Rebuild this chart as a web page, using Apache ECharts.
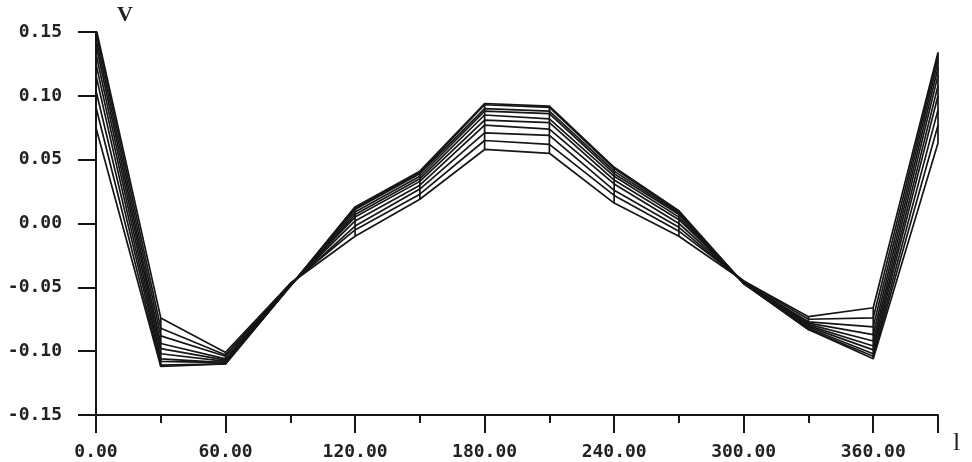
<!DOCTYPE html>
<html>
<head>
<meta charset="utf-8">
<title>V - l</title>
<script src="https://cdn.jsdelivr.net/npm/echarts@6/dist/echarts.min.js"></script>
<style>
html, body { margin: 0; padding: 0; background: #fff; }
#main { width: 972px; height: 462px; }
</style>
</head>
<body>
<div id="main"></div>
<script>
// positions along l
var xs = [0, 30, 60, 90, 120, 150, 180, 210, 240, 270, 300, 330, 360, 390];

// the family of curves
var v1  = [0.153, -0.074, -0.101, -0.047, -0.010, 0.019, 0.058, 0.055, 0.016, -0.010, -0.045, -0.073, -0.066, 0.134];
var v2  = [0.150, -0.082, -0.103, -0.047, -0.005, 0.023, 0.065, 0.062, 0.022, -0.006, -0.045, -0.075, -0.074, 0.131];
var v3  = [0.145, -0.088, -0.104, -0.048, -0.002, 0.027, 0.071, 0.069, 0.026, -0.003, -0.046, -0.077, -0.081, 0.127];
var v4  = [0.140, -0.094, -0.106, -0.048, 0.002, 0.030, 0.077, 0.074, 0.031, 0.000, -0.046, -0.078, -0.087, 0.122];
var v5  = [0.133, -0.098, -0.107, -0.048, 0.005, 0.033, 0.081, 0.079, 0.034, 0.003, -0.046, -0.079, -0.092, 0.116];
var v6  = [0.125, -0.102, -0.108, -0.049, 0.007, 0.035, 0.085, 0.082, 0.037, 0.005, -0.047, -0.080, -0.096, 0.108];
var v7  = [0.116, -0.106, -0.109, -0.049, 0.009, 0.037, 0.088, 0.086, 0.039, 0.007, -0.047, -0.081, -0.099, 0.100];
var v8  = [0.104, -0.108, -0.109, -0.049, 0.011, 0.039, 0.090, 0.088, 0.041, 0.008, -0.047, -0.082, -0.102, 0.089];
var v9  = [0.091, -0.111, -0.110, -0.049, 0.012, 0.040, 0.093, 0.091, 0.043, 0.009, -0.047, -0.083, -0.104, 0.077];
var v10 = [0.075, -0.112, -0.110, -0.049, 0.013, 0.041, 0.094, 0.092, 0.044, 0.010, -0.047, -0.083, -0.106, 0.063];

var curves = [v1, v2, v3, v4, v5, v6, v7, v8, v9, v10];

var yTicks = [-0.15, -0.10, -0.05, 0.00, 0.05, 0.10, 0.15];
var xLabelTicks = [0, 60, 120, 180, 240, 300, 360];

var ink = '#161616';
var monoFont = '"DejaVu Sans Mono", "Liberation Mono", monospace';

var chart = echarts.init(document.getElementById('main'), null, { renderer: 'canvas' });

var series = [];
for (var c = 0; c < curves.length; c++) {
    var pts = [];
    for (var i = 0; i < xs.length; i++) {
        pts.push([xs[i], curves[c][i]]);
    }
    series.push({
        type: 'line',
        data: pts,
        showSymbol: false,
        symbol: 'none',
        silent: true,
        lineStyle: { color: ink, width: 1.7 }
    });
}

// vertical strokes joining the curves at every station
for (var j = 0; j < xs.length; j++) {
    var lo = Infinity, hi = -Infinity;
    for (var k = 0; k < curves.length; k++) {
        lo = Math.min(lo, curves[k][j]);
        hi = Math.max(hi, curves[k][j]);
    }
    series.push({
        type: 'line',
        data: [[xs[j], lo], [xs[j], hi]],
        showSymbol: false,
        symbol: 'none',
        silent: true,
        lineStyle: { color: ink, width: 1.7 }
    });
}

var option = {
    backgroundColor: '#fff',
    animation: false,
    grid: { left: 96, right: 34, top: 32, bottom: 47 },
    xAxis: [
        {
            type: 'value',
            min: 0,
            max: 390,
            interval: 30,
            axisLine: { onZero: false, lineStyle: { color: ink, width: 2 } },
            axisTick: { length: 8, lineStyle: { color: ink, width: 2 } },
            axisLabel: { show: false },
            splitLine: { show: false }
        },
        {
            type: 'value',
            min: 0,
            max: 390,
            interval: 60,
            position: 'bottom',
            axisLine: { show: false, onZero: false },
            axisTick: { length: 18, lineStyle: { color: ink, width: 2 } },
            axisLabel: {
                margin: 28,
                color: '#222',
                fontFamily: monoFont,
                fontWeight: 'bold',
                fontSize: 18,
                formatter: function (v) {
                    return xLabelTicks.indexOf(Math.round(v)) >= 0 ? v.toFixed(2) : '';
                }
            },
            splitLine: { show: false }
        }
    ],
    yAxis: {
        type: 'value',
        min: yTicks[0],
        max: yTicks[yTicks.length - 1],
        interval: 0.05,
        axisLine: { lineStyle: { color: ink, width: 2 } },
        axisTick: { length: 18, lineStyle: { color: ink, width: 2 } },
        axisLabel: {
            margin: 34,
            color: '#222',
            fontFamily: monoFont,
            fontWeight: 'bold',
            fontSize: 18,
            formatter: function (v) { return v.toFixed(2); }
        },
        splitLine: { show: false }
    },
    graphic: [
        {
            type: 'text', left: 117, top: 4,
            style: { text: 'V', font: 'bold 22px "Liberation Serif", serif', fill: '#222' }
        },
        {
            type: 'text', left: 953, top: 430,
            style: { text: 'l', font: '26px "Liberation Serif", serif', fill: '#222' }
        }
    ],
    series: series
};

chart.setOption(option);
</script>
</body>
</html>
